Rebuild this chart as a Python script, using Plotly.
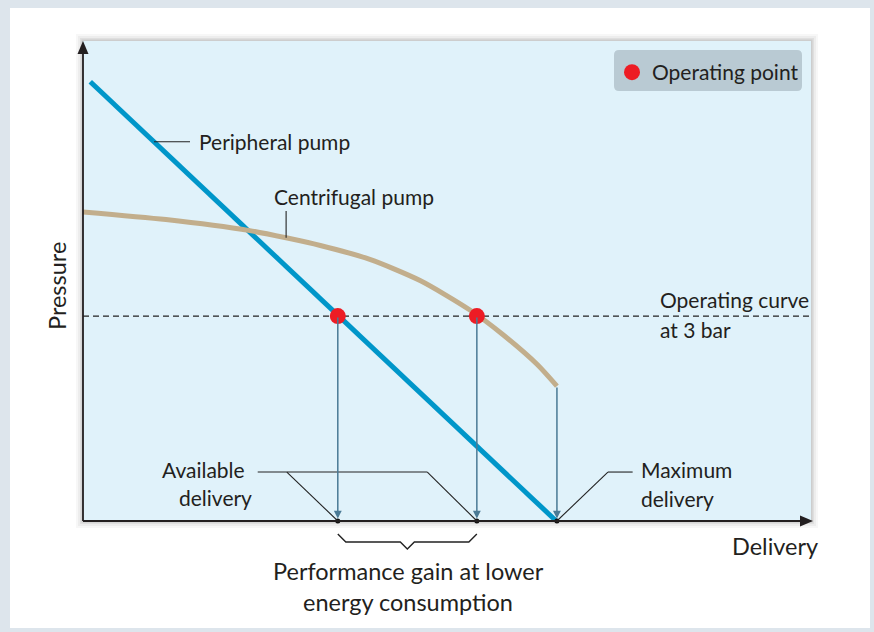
import plotly.graph_objects as go

# ---------------- data (abstract units: delivery 0-100, pressure 0-100) ----------------
peripheral_delivery = [1.0, 65.0]
peripheral_pressure = [91.5, 0.0]

centrifugal_delivery = [0, 11.4, 22.9, 27.9, 32.6, 39.4, 46.3, 53.2, 57.7, 62.4, 65.1]
centrifugal_pressure = [64.4, 62.8, 60.5, 59.0, 57.4, 54.5, 50.1, 43.9, 38.8, 32.6, 28.1]

operating_pressure = 42.7            # "Operating curve at 3 bar"
operating_delivery = [35.0, 54.1]    # peripheral / centrifugal operating points
max_delivery = 65.1

# ---------------- style ----------------
FONT = "Lato"
TXT = "#231f20"
BLUE = "#0096c9"
TAN = "#c2ae8c"
RED = "#ed1c24"
STEEL = "#4a7a95"
BOXBG = "#e0f2fa"

W, H = 874, 632
L, R, T, B = 83, 811, 41, 521          # plot area in pixels


def px(x):   # pixel -> paper x
    return (x - L) / (R - L)


def py(y):   # pixel -> paper y
    return (B - y) / (B - T)


def dx(x):   # data x -> pixel
    return L + x / 100 * (R - L)


fig = go.Figure()

fig.add_trace(go.Scatter(x=peripheral_delivery, y=peripheral_pressure, mode="lines",
                         line=dict(color=BLUE, width=5), showlegend=False, hoverinfo="skip"))
fig.add_trace(go.Scatter(x=centrifugal_delivery, y=centrifugal_pressure, mode="lines",
                         line=dict(color=TAN, width=5, shape="spline", smoothing=0.7),
                         showlegend=False, hoverinfo="skip"))
# operating curve
fig.add_trace(go.Scatter(x=[0, 100], y=[operating_pressure] * 2, mode="lines",
                         line=dict(color="#222", width=1.3, dash="6px,4px"),
                         showlegend=False, hoverinfo="skip"))
# dots on the delivery axis
fig.add_trace(go.Scatter(x=operating_delivery + [max_delivery], y=[0, 0, 0], mode="markers",
                         marker=dict(color="#111", size=5), cliponaxis=False,
                         showlegend=False, hoverinfo="skip"))
# operating points
fig.add_trace(go.Scatter(x=operating_delivery, y=[operating_pressure] * 2, mode="markers",
                         marker=dict(color=RED, size=16), name="Operating point",
                         cliponaxis=False, hoverinfo="skip"))

shapes = []
# outer frame
shapes.append(dict(type="rect", xref="paper", yref="paper", x0=px(10), x1=px(870), y0=py(8), y1=py(628),
                   fillcolor="white", line=dict(width=0), layer="below"))
# shadow of the plot box
for k, a in [(7, 0.03), (5, 0.04), (3, 0.06), (1.5, 0.08)]:
    shapes.append(dict(type="rect", xref="paper", yref="paper", x0=px(L - k), x1=px(R + k),
                       y0=py(B + k), y1=py(T - k), fillcolor=f"rgba(0,0,0,{a})",
                       line=dict(width=0), layer="below"))
shapes.append(dict(type="rect", xref="paper", yref="paper", x0=0, x1=1, y0=0, y1=1,
                   fillcolor=BOXBG, line=dict(width=0), layer="below"))
# legend box (rounded)
lx0, lx1, ly0, ly1, r = 614, 802, 50, 91, 5
path = (f"M{px(lx0 + r)},{py(ly0)} L{px(lx1 - r)},{py(ly0)} Q{px(lx1)},{py(ly0)} {px(lx1)},{py(ly0 + r)} "
        f"L{px(lx1)},{py(ly1 - r)} Q{px(lx1)},{py(ly1)} {px(lx1 - r)},{py(ly1)} "
        f"L{px(lx0 + r)},{py(ly1)} Q{px(lx0)},{py(ly1)} {px(lx0)},{py(ly1 - r)} "
        f"L{px(lx0)},{py(ly0 + r)} Q{px(lx0)},{py(ly0)} {px(lx0 + r)},{py(ly0)} Z")
shapes.append(dict(type="path", xref="paper", yref="paper", path=path, fillcolor="#b9cad3",
                   line=dict(width=0), layer="below"))

# axes with arrows
shapes.append(dict(type="line", xref="paper", yref="paper", x0=0, x1=px(801), y0=0, y1=0,
                   line=dict(color=TXT, width=1.8)))
shapes.append(dict(type="path", xref="paper", yref="paper",
                   path=f"M{px(800)},{py(515.5)} L{px(813)},{py(521)} L{px(800)},{py(526.5)} Z",
                   fillcolor=TXT, line=dict(width=0)))
shapes.append(dict(type="line", xref="paper", yref="paper", x0=0, x1=0, y0=0, y1=py(53),
                   line=dict(color=TXT, width=1.8)))
shapes.append(dict(type="path", xref="paper", yref="paper",
                   path=f"M{px(77.5)},{py(54)} L{px(83)},{py(41)} L{px(88.5)},{py(54)} Z",
                   fillcolor=TXT, line=dict(width=0)))

# leader lines (data coords)
lead = dict(color="#222", width=1.1)


def seg(x0, y0, x1, y1):
    shapes.append(dict(type="line", xref="x", yref="y", x0=x0, y0=y0, x1=x1, y1=y1, line=lead))


lead_y = 10.2
seg(9.75, 79.0, 14.7, 79.0)                      # peripheral pump
seg(27.9, 59.0, 27.9, 64.6)                      # centrifugal pump
seg(24.0, lead_y, 47.3, lead_y)                  # available delivery horizontal
seg(28.0, lead_y, operating_delivery[0], 0)
seg(47.3, lead_y, operating_delivery[1], 0)
seg(max_delivery, 0, 72.1, lead_y)               # maximum delivery
seg(72.1, lead_y, 75.5, lead_y)

# brace under the two available deliveries
bx0, bx1 = dx(operating_delivery[0]), dx(operating_delivery[1])
bm = (bx0 + bx1) / 2
bpath = (f"M{px(bx0)},{py(534)} L{px(bx0 + 8)},{py(542)} L{px(bm - 7)},{py(542)} L{px(bm)},{py(549)} "
         f"L{px(bm + 7)},{py(542)} L{px(bx1 - 8)},{py(542)} L{px(bx1)},{py(534)}")
shapes.append(dict(type="path", xref="paper", yref="paper", path=bpath,
                   line=dict(color="#222", width=1.4)))

fig.update_layout(shapes=shapes)

# drop lines with arrowheads
for xd, y_top in [(operating_delivery[0], operating_pressure),
                  (operating_delivery[1], operating_pressure),
                  (max_delivery, centrifugal_pressure[-1])]:
    fig.add_annotation(x=xd, y=0, ax=xd, ay=y_top, xref="x", yref="y", axref="x", ayref="y",
                       text="", showarrow=True, arrowhead=2, arrowsize=1.05, arrowwidth=1.5,
                       arrowcolor=STEEL, standoff=2.5)


def label(text, x, y, size=21, xanchor="left", xref="x", yref="y", **kw):
    fig.add_annotation(text=text, x=x, y=y, xref=xref, yref=yref, showarrow=False,
                       xanchor=xanchor, yanchor="middle", font=dict(family=FONT, size=size, color=TXT), **kw)


label("Peripheral pump", 15.6, 79.0)
label("Centrifugal pump", 26.0, 67.6)
label("Operating curve", 79.0, 46.2)
label("at 3 bar", 79.0, 40.0)
label("Available", 16.6, 10.8, xanchor="center")
label("delivery", 18.2, 4.9, xanchor="center")
label("Maximum", 76.4, 10.8)
label("delivery", 76.4, 4.7)
label("Delivery", px(775), py(546), size=23.5, xanchor="center", xref="paper", yref="paper")
label("Pressure", px(57), py(286), size=23.5, xanchor="center", xref="paper", yref="paper", textangle=-90)
label("Performance gain at lower", px(408), py(571), size=23.5, xanchor="center", xref="paper", yref="paper")
label("energy consumption", px(408), py(602), size=23.5, xanchor="center", xref="paper", yref="paper")

fig.update_layout(
    width=W, height=H,
    margin=dict(l=L, r=W - R, t=T, b=H - B, pad=0),
    paper_bgcolor="#dde5ec", plot_bgcolor="rgba(0,0,0,0)",
    xaxis=dict(range=[0, 100], visible=False, fixedrange=True),
    yaxis=dict(range=[0, 100], visible=False, fixedrange=True),
    showlegend=True,
    legend=dict(x=px(612), y=py(52), xanchor="left", yanchor="top", bgcolor="rgba(0,0,0,0)",
                font=dict(family=FONT, size=21, color=TXT), itemwidth=30,
                borderwidth=0),
    font=dict(family=FONT, color=TXT),
)

fig.write_html("out.html", post_script="document.body.style.margin='0';",
               config={"displayModeBar": False})
